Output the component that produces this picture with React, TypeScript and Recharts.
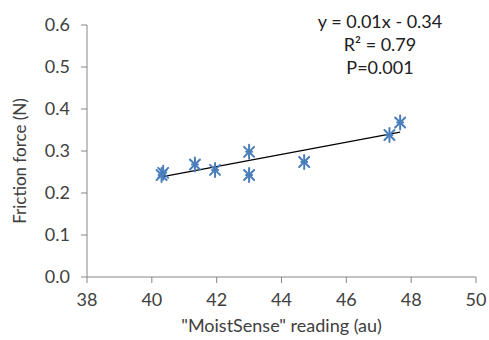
import { ScatterChart, Scatter, XAxis, YAxis } from 'recharts';

// MoistSense readings (au) against measured friction force (N)
const readings = [40.3, 40.35, 41.33, 41.95, 43.0, 43.0, 44.7, 47.33, 47.66];
const friction = [0.243, 0.248, 0.268, 0.255, 0.298, 0.243, 0.274, 0.338, 0.368];

const xTicks = [38, 40, 42, 44, 46, 48, 50];
const yTicks = [0, 0.1, 0.2, 0.3, 0.4, 0.5, 0.6];
const fitLabels = ['y = 0.01x - 0.34', 'R² = 0.79', 'P=0.001'];

const points = readings.map((x, i) => ({ x, y: friction[i] }));

// least-squares line through the measurements, drawn over the data range
function linearFit(xs: number[], ys: number[]) {
  const n = xs.length;
  const mx = xs.reduce((a, b) => a + b, 0) / n;
  const my = ys.reduce((a, b) => a + b, 0) / n;
  let sxy = 0;
  let sxx = 0;
  xs.forEach((x, i) => {
    sxy += (x - mx) * (ys[i] - my);
    sxx += (x - mx) * (x - mx);
  });
  const slope = sxy / sxx;
  return { slope, intercept: my - slope * mx };
}

const fit = linearFit(readings, friction);
const xMin = Math.min(...readings);
const xMax = Math.max(...readings);
const trend = [
  { x: xMin, y: fit.intercept + fit.slope * xMin },
  { x: xMax, y: fit.intercept + fit.slope * xMax },
];

const FONT = 'Lato, "Open Sans", sans-serif';
const TEXT = '#404040';
const AXIS = '#868686';

function StarMarker(props: any) {
  const { cx, cy } = props;
  const d = 5;
  return (
    <g stroke="#4a7ebb" strokeWidth={2} strokeLinecap="round">
      <line x1={cx - d} y1={cy - d} x2={cx + d} y2={cy + d} />
      <line x1={cx - d} y1={cy + d} x2={cx + d} y2={cy - d} />
      <line x1={cx} y1={cy - 7} x2={cx} y2={cy + 7} />
      <line x1={cx - 3} y1={cy} x2={cx + 3} y2={cy} />
    </g>
  );
}

export default function App() {
  return (
    <div style={{ position: 'absolute', left: 0, top: 0, width: 489, height: 340, background: '#fff' }}>
      <ScatterChart width={489} height={340} margin={{ top: 25, right: 13, bottom: 0, left: 0 }}>
        <XAxis
          type="number"
          dataKey="x"
          domain={[38, 50]}
          ticks={xTicks}
          stroke={AXIS}
          tickSize={6}
          tickMargin={10}
          tick={{ fill: TEXT, fontSize: 18, fontFamily: FONT }}
          height={63}
          label={{ value: '"MoistSense" reading (au)', position: 'insideBottom', offset: 8, fill: TEXT, fontSize: 18, fontFamily: FONT }}
        />
        <YAxis
          type="number"
          dataKey="y"
          domain={[0, 0.6]}
          ticks={yTicks}
          tickFormatter={(v: number) => v.toFixed(1)}
          stroke={AXIS}
          tickSize={6}
          tickMargin={11}
          tick={{ fill: TEXT, fontSize: 18, fontFamily: FONT }}
          width={87}
          label={{ value: 'Friction force (N)', angle: -90, position: 'insideLeft', offset: 20, dy: 10, textAnchor: 'middle', fill: TEXT, fontSize: 17, fontFamily: FONT }}
        />
        <Scatter data={trend} line={{ stroke: '#000', strokeWidth: 1.3 }} shape={() => null} isAnimationActive={false} />
        <Scatter data={points} shape={<StarMarker />} isAnimationActive={false} />
        {fitLabels.map((t, i) => (
          <text
            key={t}
            x={380}
            y={21 + i * 23}
            textAnchor="middle"
            dominantBaseline="central"
            fill="#202020"
            fontSize={18}
            fontFamily={FONT}
          >
            {t}
          </text>
        ))}
      </ScatterChart>
    </div>
  );
}
